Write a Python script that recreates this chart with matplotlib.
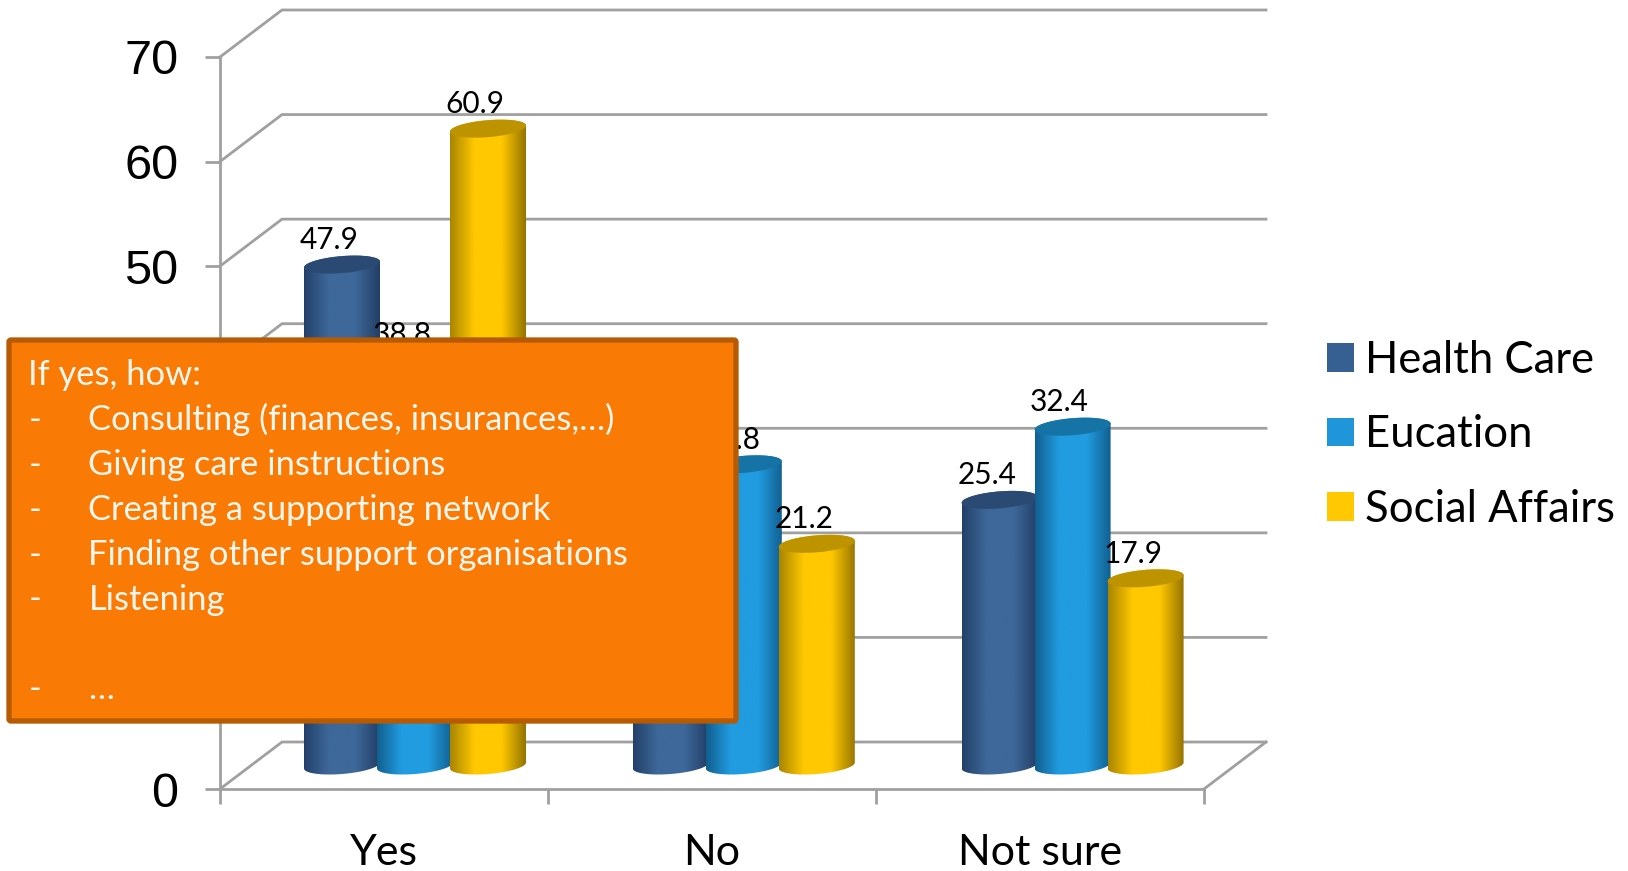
import numpy as np
import matplotlib
matplotlib.use("Agg")
import matplotlib.pyplot as plt
from matplotlib.patches import FancyBboxPatch, PathPatch, Patch, Polygon
from matplotlib.path import Path

categories = ["Yes", "No", "Not sure"]
series_names = ["Health Care", "Eucation", "Social Affairs"]
health_care = [47.9, 26.7, 25.4]
education = [38.8, 28.8, 32.4]
social_affairs = [60.9, 21.2, 17.9]
y_ticks = [0, 10, 20, 30, 40, 50, 60, 70]
y_tick_labels = ["0", "", "", "", "", "50", "60", "70"]   # 10-40 lie under the call-out
box_title = "If yes, how:"
box_items = ["Consulting (finances, insurances,…)", "Giving care instructions",
             "Creating a supporting network", "Finding other support organisations",
             "Listening", "", "…"]

W, H = 1628, 871
GREY = "#A0A0A0"
ramps = [
    dict(edgeL="#23406A", mid="#3E6899", edgeR="#223E66", top="#2A4A74", swatch="#376092"),
    dict(edgeL="#125F8F", mid="#219CE0", edgeR="#125F8F", top="#1673A6", swatch="#1F96DA"),
    dict(edgeL="#A98500", mid="#FFC800", edgeR="#957400", top="#BD9300", swatch="#FFC800"),
]

fig = plt.figure(figsize=(W / 100, H / 100), dpi=100, facecolor="white")
ax = fig.add_axes([220 / W, (H - 789) / H, 984 / W, 732 / H])
ax.patch.set_alpha(0)

px_x = 3 / 984      # category units per pixel
px_y = 70 / 732     # value units per pixel
depth_x, depth_y = 62 * px_x, 47 * px_y

# walls and floor
for v in y_ticks:
    ax.plot([0, depth_x, 3 + depth_x], [v, v + depth_y, v + depth_y],
            color=GREY, lw=2.0, clip_on=False, zorder=1, solid_joinstyle="miter")
ax.plot([3, 3 + depth_x], [0, depth_y], color=GREY, lw=2.0, clip_on=False, zorder=1)


def hex2rgb(c):
    return np.array(matplotlib.colors.to_rgb(c))


def gradient(r):
    stops = [0, 0.32, 0.68, 1]
    cols = [hex2rgb(r["edgeL"]), hex2rgb(r["mid"]), hex2rgb(r["mid"]), hex2rgb(r["edgeR"])]
    t = np.linspace(0, 1, 128)
    return np.stack([np.interp(t, stops, [c[k] for c in cols]) for k in range(3)], axis=1)[None, :, :]


bar_w = 76 * px_x
step = 73.0 * px_x
semi_b = 8.5 * px_y
shear = 3.0 * px_y


def ellipse(cx, cy, t):
    return (cx + bar_w / 2 * np.cos(t),
            cy + shear * np.cos(t) + semi_b * np.sin(t))


series = [health_care, education, social_affairs]
for s, vals in enumerate(series):
    for i, v in enumerate(vals):
        cx = i + 0.5 + depth_x / 2 + (s - 1) * step + i * 0.8 * px_x
        base = depth_y / 2
        top = base + v
        # side outline: bottom half ellipse left to right, top half right to left
        t_b = np.linspace(np.pi, 2 * np.pi, 50)
        t_t = np.linspace(0, np.pi, 50)
        xb, yb = ellipse(cx, base, t_b)
        xt, yt = ellipse(cx, top, t_t)
        verts = np.column_stack([np.r_[xb, xt], np.r_[yb, yt]])
        path = Path(np.vstack([verts, verts[0]]), closed=True)
        clip = PathPatch(path, transform=ax.transData, fc="none", ec="none")
        ax.add_patch(clip)
        im = ax.imshow(gradient(ramps[s]), extent=[cx - bar_w / 2, cx + bar_w / 2, base - 2, top + 2],
                       aspect="auto", zorder=3 + s * 0.1 + i * 0.01, interpolation="bilinear")
        im.set_clip_path(clip)
        t_f = np.linspace(0, 2 * np.pi, 100)
        xe, ye = ellipse(cx, top, t_f)
        ax.add_patch(Polygon(np.column_stack([xe, ye]), closed=True, fc=ramps[s]["top"], ec="none",
                             zorder=3.05 + s * 0.1 + i * 0.01))
        if not (s == 0 and i == 1):   # this label lies wholly under the call-out
            ax.annotate(f"{v:.1f}", (cx, top), xytext=(-13 * 0.72, 24.5 * 0.72), textcoords="offset points",
                        ha="center", va="center", fontsize=21.5, family="Lato", color="black", zorder=8,
                        annotation_clip=False)

ax.set_xlim(0, 3)
ax.set_ylim(0, 70)
for side in ("top", "right"):
    ax.spines[side].set_visible(False)
for side in ("left", "bottom"):
    ax.spines[side].set_color(GREY)
    ax.spines[side].set_linewidth(2.0)
    ax.spines[side].set_zorder(1)
ax.set_yticks(y_ticks)
ax.set_yticklabels(y_tick_labels, family="Liberation Sans", fontsize=35, color="black")
ax.tick_params(axis="y", length=10.8, width=2.0, color=GREY, pad=19)
ax.set_xticks([0, 1, 2, 3])
ax.set_xticklabels([])
ax.tick_params(axis="x", which="major", length=10.8, width=2.0, color=GREY)
ax.set_xticks([0.5, 1.5, 2.5], minor=True)
ax.set_xticklabels(categories, minor=True, family="Lato", fontsize=31, color="black")
ax.tick_params(axis="x", which="minor", length=0, pad=32.5)

# orange call-out
fx = lambda p: p / W
fy = lambda p: (H - p) / H
box = FancyBboxPatch((9, H - 721), 727, 381, transform=None,
                     boxstyle="round,pad=0,rounding_size=2", fc="#F97A05", ec="#B65A03", lw=3.8,
                     zorder=20, clip_on=False)
fig.add_artist(box)
fig.text(fx(28), fy(385), box_title, family="Lato", fontsize=24.8, color="#FFF7EE", va="baseline", zorder=21)
for k, line in enumerate(box_items):
    y = 385 + 44.9 * (k + 1)
    if line:
        fig.text(fx(29), fy(y), "-", family="Lato", fontsize=24.8, color="#FFF7EE", va="baseline", zorder=21)
        fig.text(fx(88.5), fy(y), line, family="Lato", fontsize=24.8, color="#FFF7EE", va="baseline", zorder=21)

# legend
handles = [Patch(fc=r["swatch"], ec="none") for r in ramps]
leg = fig.legend(handles, series_names, loc="upper left", bbox_to_anchor=(1318 / W, fy(331)),
                 frameon=False, prop={"family": "Lato", "size": 31.4}, handlelength=0.62,
                 handleheight=0.62, handletextpad=0.25, labelspacing=0.77, borderpad=0.2, borderaxespad=0)

fig.savefig("out.png", dpi=100)
